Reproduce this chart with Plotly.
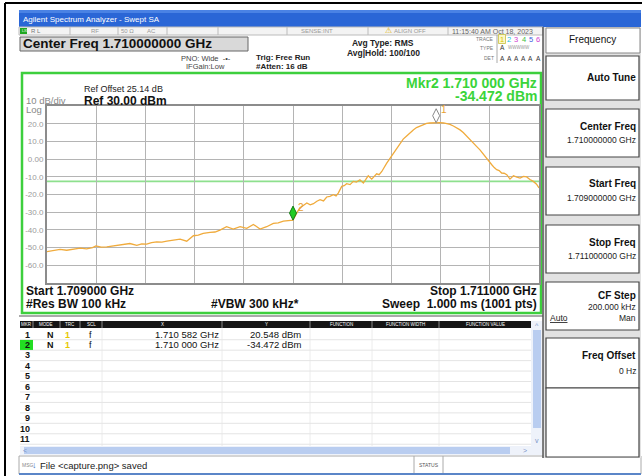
import plotly.graph_objects as go

freq_ghz = [
    1.709000, 1.709025, 1.709053, 1.709080, 1.709107, 1.709135, 1.709161, 1.709185,
    1.709199, 1.709220, 1.709243, 1.709270, 1.709297, 1.709320, 1.709337, 1.709365,
    1.709385, 1.709405, 1.709425, 1.709446, 1.709467, 1.709487, 1.709515, 1.709541,
    1.709568, 1.709595, 1.709615, 1.709635, 1.709663, 1.709683, 1.709703, 1.709730,
    1.709757, 1.709785, 1.709812, 1.709839, 1.709866, 1.709893, 1.709920, 1.709940,
    1.709961, 1.709980, 1.710000, 1.710015, 1.710028, 1.710042, 1.710056, 1.710070,
    1.710083, 1.710097, 1.710110, 1.710124, 1.710137, 1.710150, 1.710164, 1.710175,
    1.710184, 1.710198, 1.710208, 1.710218, 1.710232, 1.710245, 1.710258, 1.710272,
    1.710286, 1.710296, 1.710306, 1.710320, 1.710340, 1.710350, 1.710361, 1.710381,
    1.710395, 1.710408, 1.710422, 1.710435, 1.710448, 1.710462, 1.710475, 1.710489,
    1.710502, 1.710516, 1.710530, 1.710543, 1.710556, 1.710570, 1.710582, 1.710598,
    1.710612, 1.710625, 1.710638, 1.710652, 1.710665, 1.710679, 1.710692, 1.710706,
    1.710720, 1.710733, 1.710746, 1.710760, 1.710773, 1.710787, 1.710798, 1.710808,
    1.710818, 1.710828, 1.710838, 1.710848, 1.710858, 1.710869, 1.710882, 1.710896,
    1.710910, 1.710923, 1.710937, 1.710950, 1.710963, 1.710977, 1.710990, 1.711000,
]
level_dbm = [
    -52.3, -51.6, -51.0, -51.5, -51.1, -50.3, -50.7, -50.0,
    -49.0, -49.7, -49.6, -49.0, -48.7, -48.2, -47.7, -48.7,
    -47.9, -48.0, -47.2, -46.8, -46.9, -46.4, -45.8, -45.2,
    -46.4, -43.3, -43.0, -42.0, -41.4, -41.2, -40.1, -38.2,
    -39.5, -38.2, -39.1, -36.9, -39.5, -38.2, -36.3, -36.0,
    -35.0, -34.8, -34.5, -30.5, -27.5, -26.2, -24.8, -25.8,
    -25.2, -23.8, -22.9, -23.6, -21.4, -21.0, -20.1, -20.8,
    -19.2, -15.4, -15.0, -13.9, -14.4, -12.6, -13.0, -11.7,
    -13.5, -11.5, -9.4, -11.3, -8.3, -8.8, -7.0, -2.3,
    0.5, 3.4, 6.5, 9.0, 11.3, 13.1, 15.0, 16.5,
    17.8, 18.7, 19.6, 20.2, 20.4, 20.6, 20.55, 20.6,
    20.4, 20.2, 19.6, 18.7, 17.7, 16.5, 15.0, 13.1,
    11.2, 9.0, 7.2, 5.2, 2.8, 0.0, -1.8, -3.2,
    -4.8, -6.0, -6.5, -7.9, -8.0, -8.8, -11.3, -9.4,
    -10.2, -10.7, -9.8, -10.1, -11.5, -12.6, -14.2, -16.3,
]
marker_num = [1, 2]
marker_freq_ghz = [1.710582, 1.710000]
marker_level_dbm = [20.548, -34.472]
display_line_dbm = -12.6
ytick_vals = [20, 10, 0, -10, -20, -30, -40, -50, -60]
ytick_text = ["20.0", "10.0", "0.00", "-10.0", "-20.0", "-30.0", "-40.0", "-50.0", "-60.0"]
table_rows = list(range(1, 12))
softkeys = [
    ("Auto Tune", ""),
    ("Center Freq", "1.710000000 GHz"),
    ("Start Freq", "1.709000000 GHz"),
    ("Stop Freq", "1.711000000 GHz"),
    ("CF Step", "200.000 kHz"),
    ("Freq Offset", "0 Hz"),
]

# ---------------- geometry helpers (pixel -> paper) ----------------
W, H = 642, 476
PL, PR, PT, PB = 47, 539, 106, 283
FONT = "Liberation Sans, Arial, sans-serif"
PX_PER_DB = (PB - PT) / 100.0


def X(px):
    return (px - PL) / (PR - PL)


def Y(py):
    return (PB - py) / (PB - PT)


shapes, ann = [], []


def rect(x0, y0, x1, y1, fill=None, line=None, lw=1, layer="below"):
    shapes.append(dict(type="rect", xref="paper", yref="paper",
                       x0=X(x0), x1=X(x1), y0=Y(y1), y1=Y(y0),
                       fillcolor=fill or "rgba(0,0,0,0)",
                       line=dict(color=line or "rgba(0,0,0,0)", width=lw if line else 0),
                       layer=layer))


def hline(x0, x1, y, color, lw=1, layer="below"):
    shapes.append(dict(type="line", xref="paper", yref="paper", x0=X(x0), x1=X(x1),
                       y0=Y(y), y1=Y(y), line=dict(color=color, width=lw), layer=layer))


def vline(x, y0, y1, color, lw=1, layer="below"):
    shapes.append(dict(type="line", xref="paper", yref="paper", x0=X(x), x1=X(x),
                       y0=Y(y0), y1=Y(y1), line=dict(color=color, width=lw), layer=layer))


def text(x, y, s, size=9, color="#000", anchor="left", bold=False):
    ann.append(dict(xref="paper", yref="paper", x=X(x), y=Y(y),
                    text=("<b>%s</b>" % s) if bold else s, showarrow=False,
                    xanchor=anchor, yanchor="middle", borderpad=0,
                    font=dict(size=size, color=color, family=FONT)))


# ---------------- outer frame and title bar ----------------
vline(5, 3, 476, "#000", 2)
hline(5, 642, 3, "#000", 2)
rect(19, 10, 641, 27, fill="#2a66d6")
rect(19, 10, 641, 13, fill="#4a82e4")
text(22, 19, "Agilent Spectrum Analyzer - Swept SA", 8, "#ffffff")

# status row
rect(19, 27, 543, 35, fill="#f3f3f3", line="#bbbbbb", lw=1)
for sx in [70, 118, 167, 218, 287, 368, 448]:
    vline(sx, 27, 35, "#bbbbbb")
rect(20, 28, 27, 34, fill="#21a821")
text(20.5, 31, "LXI", 3.5, "#ffffff")
text(30, 31, "R L", 6, "#777")
text(90, 31, "RF", 6, "#999")
text(120, 31, "50 Ω", 6, "#999")
text(146, 31, "AC", 6, "#999")
text(300, 31, "SENSE:INT", 6, "#999")
text(384, 30.5, "⚠", 8, "#e0b000")
text(393, 31, "ALIGN OFF", 6, "#999")
text(451, 31, "11:15:40 AM Oct 18, 2023", 7, "#666")

# center freq box
rect(20, 37, 248, 51, fill="#d9d9d9", line="#666", lw=1)
text(22, 44, "Center Freq 1.710000000 GHz", 13.5, "#111", bold=True)
text(180, 58, "PNO: Wide  -•-", 7.5, "#444")
text(185, 67, "IFGain:Low", 7.5, "#444")
text(255, 57, "Trig: Free Run", 8, "#222", bold=True)
text(255, 67, "#Atten: 16 dB", 8, "#222", bold=True)
text(383, 43, "Avg Type: RMS", 8.5, "#222", anchor="center", bold=True)
text(383, 53, "Avg|Hold: 100/100", 8.5, "#222", anchor="center", bold=True)

# trace/detector block
vline(497, 35, 63, "#aaaaaa")
text(495, 39, "TRACE", 5, "#777", anchor="right")
text(495, 48, "TYPE", 5, "#777", anchor="right")
text(495, 58, "DET", 5, "#777", anchor="right")
rect(498.5, 34.5, 505.5, 43.5, fill="#fbf7c8", line="#c8c040", lw=0.8)
trace_cols = ["#d8c400", "#20c0e0", "#d040d0", "#40c040", "#4060e0", "#d040d0"]
for i, c in enumerate(trace_cols):
    text(502 + i * 7.2, 39, str(i + 1), 7.5, c, anchor="center")
    text(502 + i * 7.2, 58, "A", 6.5, "#333", anchor="center")
text(502, 48, "A", 6.5, "#333", anchor="center")
text(507, 48, "WWWWW", 4.5, "#999")

# ---------------- plot panel ----------------
rect(22, 73, 541, 313, line="#3dcf3d", lw=2.5)
text(83, 89, "Ref Offset 25.14 dB", 9, "#222")
text(83, 101, "Ref 30.00 dBm", 12, "#111", bold=True)
text(25, 100.5, "10 dB/div", 9.5, "#888")
text(25, 109.5, "Log", 9.5, "#888")
text(538, 83, "Mkr2 1.710 000 GHz", 14, "#3ad43a", anchor="right", bold=True)
text(538, 96, "%.3f dBm" % marker_level_dbm[1], 14, "#3ad43a", anchor="right", bold=True)
text(25, 291, "Start 1.709000 GHz", 12, "#111", bold=True)
text(25, 304, "#Res BW 100 kHz", 12, "#111", bold=True)
text(210, 304, "#VBW 300 kHz*", 12, "#111", bold=True)
text(538, 291, "Stop 1.711000 GHz", 12, "#111", anchor="right", bold=True)
text(538, 304, "Sweep  1.000 ms (1001 pts)", 12, "#111", anchor="right", bold=True)
hline(19, 543, 316, "#aaaaaa", 2)

# display line (green)
shapes.append(dict(type="line", xref="paper", yref="y", x0=0, x1=1,
                   y0=display_line_dbm, y1=display_line_dbm,
                   line=dict(color="#8ee08e", width=1.6), layer="between"))

# ---------------- marker table ----------------
rect(20, 320, 531, 446, fill="#ffffff")
rect(20, 321, 531, 328, fill="#151515")
for sx in [33, 60, 80, 102, 222, 310, 372, 439]:
    vline(sx, 321, 328, "#888888")
for sx in [102, 222, 310, 372, 439]:
    vline(sx, 328, 446, "#ececec")
for lab, cx in [("MKR", 26.5), ("MODE", 46), ("TRC", 70), ("SCL", 91), ("X", 162),
                ("Y", 266), ("FUNCTION", 341), ("FUNCTION WIDTH", 405), ("FUNCTION VALUE", 485)]:
    text(cx, 324.5, lab, 4.5, "#ffffff", anchor="center")
ROW0, ROWH = 334.5, 10.45
for k in table_rows:
    yk = ROW0 + (k - 1) * ROWH
    hline(20, 531, yk + ROWH / 2, "#e4e4e4", 1)
    if k == 2:
        rect(20, yk - 5, 33, yk + 5, fill="#22dd22")
    text(31, yk, str(k), 9, "#111", anchor="right", bold=True)


def fmt_freq(g):
    s = "%.6f" % g
    return s[:5] + " " + s[5:] + " GHz"


for i, m in enumerate(marker_num):
    yk = ROW0 + (m - 1) * ROWH
    text(50, yk, "N", 9, "#111", anchor="center", bold=True)
    text(67, yk, "1", 9, "#e6c800", anchor="center", bold=True)
    text(90, yk, "f", 9, "#111", anchor="center")
    text(220, yk, fmt_freq(marker_freq_ghz[i]), 9.5, "#111", anchor="right")
    text(302, yk, "%.3f dBm" % marker_level_dbm[i], 9.5, "#111", anchor="right")

# scrollbars
rect(531, 321, 542, 446, fill="#eef2fa")
rect(533, 330, 541, 428, fill="#b9cdf0")
text(537, 325, "^", 7, "#7a94c8", anchor="center")
text(537, 440, "v", 7, "#7a94c8", anchor="center")
rect(20, 446, 542, 455, fill="#eef2fa")
rect(24, 447, 510, 454, fill="#b9cdf0")
text(22, 450.5, "<", 7, "#7a94c8")
text(522, 450.5, ">", 7, "#7a94c8")

# message bar
rect(19, 456, 641, 474, fill="#ffffff", line="#aaaaaa", lw=1)
text(21, 465, "MSG", 5, "#888")
text(31, 465, "↓", 9, "#3a72c8", bold=True)
text(39, 465, "File &lt;capture.png&gt; saved", 9.5, "#222")
vline(414, 456, 474, "#aaaaaa")
vline(443, 456, 474, "#aaaaaa")
text(428.5, 465, "STATUS", 5, "#555", anchor="center")
hline(19, 641, 474, "#5b86c8", 2)

# ---------------- softkey panel ----------------
rect(543, 27, 641, 458, fill="#e2e2e2")
vline(543, 27, 458, "#555555", 1.5)
rect(546, 28, 640, 53, fill="#ffffff", line="#888888", lw=1)
text(592, 39, "Frequency", 10, "#111", anchor="center")
boxes = [(56, 100), (109, 157), (167, 215), (225, 273), (282, 330), (338, 388), (388, 457)]
for y0, y1 in boxes:
    rect(546, y0, 639, y1, fill="#ffffff", line="#444444", lw=1.2)
label_y = [(77, None), (126, 140), (183, 198), (242, 256), (295, 307), (355, 371)]
for (lab, val), (ly, vy) in zip(softkeys, label_y):
    text(637, ly, lab, 10, "#111", anchor="right", bold=True)
    if val:
        text(637, vy, val, 8.5, "#222", anchor="right")
text(549, 318, "<u>Auto</u>", 8.5, "#222")
text(637, 318, "Man", 8.5, "#222", anchor="right")

# ---------------- figure ----------------
fig = go.Figure()
fig.add_trace(go.Scatter(x=freq_ghz, y=level_dbm, mode="lines",
                         line=dict(color="#f0ab3c", width=1.3), hoverinfo="skip"))
offset_db = 7 / PX_PER_DB
fig.add_trace(go.Scatter(
    x=marker_freq_ghz, y=[v + offset_db for v in marker_level_dbm], mode="markers",
    marker=dict(symbol="diamond-tall", size=10,
                color=["#ffffff", "#22cc22"],
                line=dict(color=["#888888", "#137a13"], width=1)),
    cliponaxis=False, hoverinfo="skip"))
for m, fx, lv in zip(marker_num, marker_freq_ghz, marker_level_dbm):
    ann.append(dict(xref="x", yref="y", x=fx, y=lv, text=str(m), showarrow=False,
                    xshift=8, yshift=13, font=dict(size=10, color="#e8a030", family=FONT)))

fig.update_layout(
    width=W, height=H,
    margin=dict(l=PL, r=W - PR, t=PT, b=H - PB, pad=0),
    paper_bgcolor="#ffffff", plot_bgcolor="#ffffff",
    showlegend=False, shapes=shapes, annotations=ann,
    xaxis=dict(range=[1.709, 1.711], tick0=1.709, dtick=0.0002, showgrid=True,
               gridcolor="#b4b4b4", gridwidth=1, zeroline=False, showticklabels=False,
               showline=True, linecolor="#8c8c8c", linewidth=2, mirror=True, ticks=""),
    yaxis=dict(range=[-70, 30], tickvals=ytick_vals, ticktext=ytick_text, showgrid=True,
               gridcolor="#b4b4b4", gridwidth=1, zeroline=False,
               tickfont=dict(size=8, color="#9a9a9a", family=FONT),
               showline=True, linecolor="#8c8c8c", linewidth=2, mirror=True,
               ticks="", ticklabelstandoff=0),
)
fig.write_html("out.html", config={"displayModeBar": False},
               post_script="document.body.style.margin='0';document.body.style.overflow='hidden';")
